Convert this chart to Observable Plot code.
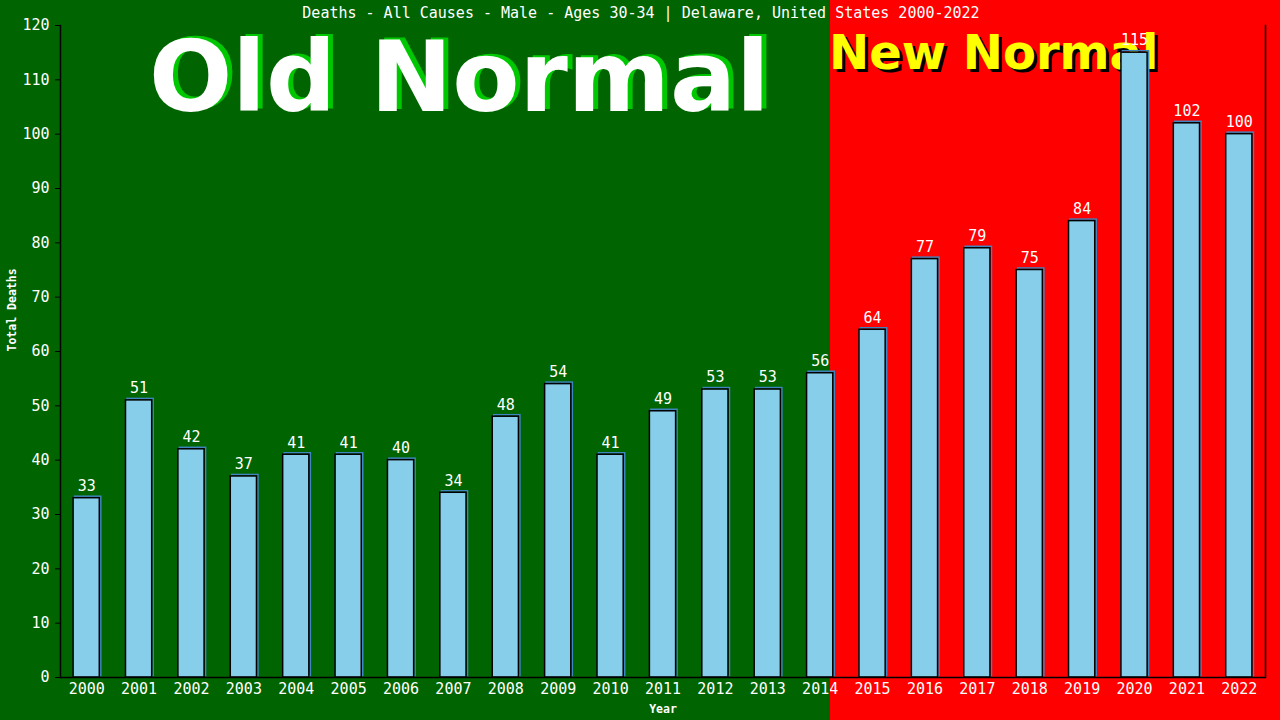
<!DOCTYPE html>
<html>
<head>
<meta charset="utf-8">
<script src="https://cdn.jsdelivr.net/npm/d3@7"></script>
<script src="https://cdn.jsdelivr.net/npm/@observablehq/plot@0.6"></script>
<style>
  html, body { margin: 0; padding: 0; }
  body { width: 1280px; height: 720px; overflow: hidden; position: relative;
         background: linear-gradient(to right, #006400 0px, #006400 830px, #ff0000 830px, #ff0000 1280px); }
  .big { position: absolute; font-family: "DejaVu Sans", sans-serif; font-weight: bold; white-space: nowrap; line-height: 1; }
  #old { left: 149px; top: 28px; font-size: 98px; color: #ffffff; text-shadow: 5px -2px 0 #00c800; }
  #new { left: 829px; top: 28px; font-size: 48px; color: #ffff00; text-shadow: 3px 3px 0 #000000; }
  #chart { position: absolute; left: 0; top: 0; }
</style>
</head>
<body>
<div class="big" id="old">Old Normal</div>
<div class="big" id="new">New Normal</div>
<div id="chart"></div>
<script>
const years = ["2000","2001","2002","2003","2004","2005","2006","2007","2008","2009","2010","2011","2012","2013","2014","2015","2016","2017","2018","2019","2020","2021","2022"];
const deaths = [33, 51, 42, 37, 41, 41, 40, 34, 48, 54, 41, 49, 53, 53, 56, 64, 77, 79, 75, 84, 115, 102, 100];
const yTicks = [0, 10, 20, 30, 40, 50, 60, 70, 80, 90, 100, 110, 120];
const titleText = "Deaths - All Causes - Male - Ages 30-34 | Delaware, United States 2000-2022";
const yLabel = "Total Deaths";
const xLabel = "Year";

const data = years.map((y, i) => ({year: y, deaths: deaths[i]}));
const mono = "'DejaVu Sans Mono', 'Liberation Mono', monospace";

const chart = Plot.plot({
  width: 1280,
  height: 720,
  marginTop: 25,
  marginBottom: 43,
  marginLeft: 60,
  marginRight: 15,
  style: {background: "transparent", color: "white", fontFamily: mono, fontSize: "15px"},
  x: {domain: years, paddingInner: 0.5, paddingOuter: 0.25, round: false, label: null},
  y: {domain: [0, 120], label: null},
  marks: [
    Plot.barY(data, {x: "year", y: "deaths", fill: "none", stroke: "#3f86c0", strokeWidth: 1.5, dx: 1.5, dy: -1.5}),
    Plot.barY(data, {x: "year", y: "deaths", fill: "#87ceeb", stroke: "black", strokeWidth: 1.5}),
    Plot.text(data, {x: "year", y: "deaths", text: d => String(d.deaths), dy: -12, fill: "white", fontSize: 15, fontFamily: mono}),
    Plot.axisY({ticks: yTicks, tickSize: 5, tickPadding: 6, stroke: "black", fill: "white", label: null, fontSize: 15}),
    Plot.axisX({tickSize: 0, tickPadding: 6, fill: "white", label: null, fontSize: 15}),
    Plot.ruleY([0], {stroke: "black", strokeWidth: 1.5}),
    Plot.frame({anchor: "left", stroke: "black", strokeWidth: 1.5}),
    Plot.frame({anchor: "right", stroke: "black", strokeWidth: 1.5}),
    Plot.text([titleText], {frameAnchor: "top", dx: -22, dy: -12, lineAnchor: "middle", fill: "white", fontSize: 15, fontFamily: mono}),
    Plot.text([yLabel], {frameAnchor: "left", dx: -48, rotate: -90, fill: "white", fontSize: 11.5, fontWeight: "bold", fontFamily: mono}),
    Plot.text([xLabel], {frameAnchor: "bottom", dy: 32, lineAnchor: "middle", fill: "white", fontSize: 11.5, fontWeight: "bold", fontFamily: mono})
  ]
});
document.getElementById("chart").appendChild(chart);
</script>
</body>
</html>
